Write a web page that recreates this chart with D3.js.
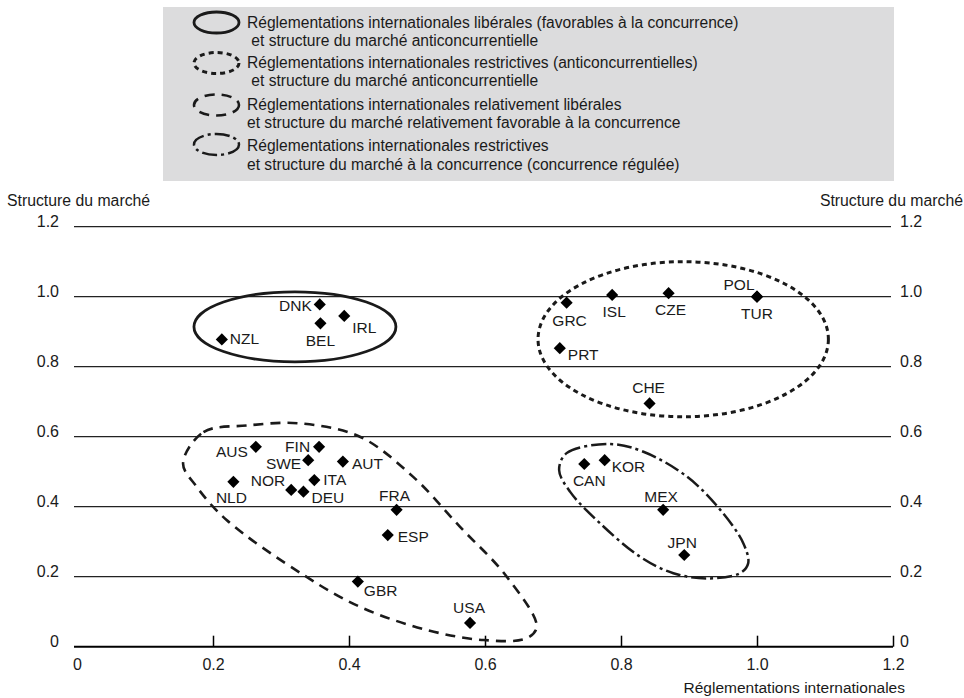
<!DOCTYPE html>
<html><head><meta charset="utf-8">
<script src="https://cdn.jsdelivr.net/npm/d3@7"></script>
<style>
body{margin:0;background:#fff;}
svg{display:block;font-family:"Liberation Sans",Arial,Helvetica,sans-serif;}
</style></head>
<body><svg id="c" width="964" height="698"></svg>
<script>
// ---- data ----
const countries = ["NZL","DNK","BEL","IRL","GRC","ISL","CZE","POL","TUR","PRT","CHE","AUS","FIN","SWE","AUT","NLD","NOR","ITA","DEU","FRA","ESP","GBR","USA","CAN","KOR","MEX","JPN"];
const regIntl   = [0.213,0.357,0.358,0.393,0.720,0.787,0.870,1.000,1.000,0.710,0.842,0.263,0.356,0.340,0.391,0.230,0.315,0.349,0.333,0.470,0.457,0.413,0.578,0.746,0.776,0.862,0.893];
const structMkt = [0.878,0.978,0.924,0.945,0.983,1.005,1.010,1.000,1.000,0.853,0.695,0.571,0.571,0.533,0.529,0.471,0.448,0.476,0.443,0.391,0.319,0.186,0.068,0.522,0.533,0.391,0.262];
const xTicks = [0,0.2,0.4,0.6,0.8,1.0,1.2];
const xTickLabels = ["0","0.2","0.4","0.6","0.8","1.0","1.2"];
const yTicks = [0,0.2,0.4,0.6,0.8,1.0,1.2];
const yTickLabels = ["0","0.2","0.4","0.6","0.8","1.0","1.2"];
const legendLines = [
  ["Réglementations internationales libérales (favorables à la concurrence)"," et structure du marché anticoncurrentielle"],
  ["Réglementations internationales restrictives (anticoncurrentielles)"," et structure du marché anticoncurrentielle"],
  ["Réglementations internationales relativement libérales","et structure du marché relativement favorable à la concurrence"],
  ["Réglementations internationales restrictives","et structure du marché à la concurrence (concurrence régulée)"]
];
// group outlines (data units)
const group1 = {x0:0.172,x1:0.469,y0:0.814,y1:1.014};
const group2 = {x0:0.678,x1:1.105,y0:0.657,y1:1.100};
const group3X = [0.156,0.186,0.250,0.328,0.416,0.494,0.563,0.632,0.676,0.661,0.598,0.514,0.416,0.333,0.220,0.176];
const group3Y = [0.524,0.613,0.632,0.638,0.600,0.486,0.343,0.200,0.057,0.024,0.019,0.048,0.114,0.205,0.362,0.457];
const group4X = [0.709,0.720,0.784,0.833,0.897,0.946,0.980,0.987,0.975,0.926,0.877,0.828,0.769,0.725];
const group4Y = [0.505,0.553,0.579,0.557,0.486,0.391,0.295,0.238,0.210,0.195,0.210,0.257,0.353,0.443];

// ---- label placement (px offsets from marker) ----
const labelPos = {
  NZL:["start",8,5], DNK:["end",-8,7], BEL:["middle",0,23], IRL:["start",8,17],
  GRC:["middle",3,23], ISL:["middle",2,22], CZE:["middle",2,22], POL:["middle",-18,-7], TUR:["middle",0,22],
  PRT:["start",8,12], CHE:["middle",-1,-10], AUS:["end",-8,10], FIN:["end",-9,5], SWE:["end",-7,9],
  AUT:["start",9,7], NLD:["middle",-2,21], NOR:["end",-6,-4], ITA:["start",9,5], DEU:["start",8,11],
  FRA:["middle",-2,-9], ESP:["start",10,7], GBR:["start",6,14], USA:["middle",-1,-10],
  CAN:["middle",5,22], KOR:["start",7,12], MEX:["middle",-2,-8], JPN:["middle",-2,-7]
};

const svg = d3.select("#c");
const x = d3.scaleLinear().domain([0,1.2]).range([77,893]);
const y = d3.scaleLinear().domain([0,1.2]).range([646.7,226.7]);
const ink = "#1a1a1a";

// legend
svg.append("rect").attr("x",163).attr("y",7).attr("width",731).attr("height",174).attr("fill","#dcdcdd");
const styles = [
  {dash:null,w:2.8},
  {dash:"5,4",w:3},
  {dash:"10,7",w:2.6},
  {dash:"15,4,3,4",w:2.5}
];
const legCy = [22.5,63,105,144.5];
const legBase = [[28,46],[68,86],[110,128],[151,170]];
legendLines.forEach((ls,i)=>{
  const e = svg.append("ellipse").attr("cx",216.5).attr("cy",legCy[i]).attr("rx",22.5).attr("ry",10.5)
    .attr("fill","none").attr("stroke",ink).attr("stroke-width",styles[i].w);
  if(styles[i].dash) e.attr("stroke-dasharray",styles[i].dash);
  ls.forEach((t,j)=>{
    svg.append("text").attr("x",247).attr("y",legBase[i][j]).attr("font-size",15.6).attr("fill",ink)
      .attr("xml:space","preserve").style("white-space","pre").text(t);
  });
});

// gridlines
svg.append("g").selectAll("line").data(yTicks.filter(d=>d>0)).join("line")
  .attr("x1",74).attr("x2",891).attr("y1",d=>y(d)).attr("y2",d=>y(d))
  .attr("stroke","#222").attr("stroke-width",1.2);
// x axis line
svg.append("line").attr("x1",74).attr("x2",893).attr("y1",y(0)).attr("y2",y(0)).attr("stroke","#000").attr("stroke-width",2);

// x axis ticks + labels
const xa = svg.append("g").attr("transform",`translate(0,${y(0)})`)
  .call(d3.axisBottom(x).tickValues(xTicks).tickFormat((d,i)=>xTickLabels[i]).tickSizeInner(-11).tickSizeOuter(0).tickPadding(12));
xa.select(".domain").remove();
xa.selectAll(".tick line").attr("stroke","#000").attr("stroke-width",1.5);
xa.selectAll(".tick").filter(d=>d===0).select("line").remove();
xa.selectAll("text").attr("font-size",16).attr("font-family","Liberation Sans, Arial, sans-serif").attr("fill",ink);

// y axes labels
const yl = svg.append("g").attr("transform","translate(74,0)")
  .call(d3.axisLeft(y).tickValues(yTicks).tickFormat((d,i)=>yTickLabels[i]).tickSize(0).tickPadding(15));
yl.select(".domain").remove();
yl.selectAll("text").attr("dy",0).attr("font-size",16).attr("font-family","Liberation Sans, Arial, sans-serif").attr("fill",ink);
const yr = svg.append("g").attr("transform","translate(891,0)")
  .call(d3.axisRight(y).tickValues(yTicks).tickFormat((d,i)=>yTickLabels[i]).tickSize(0).tickPadding(9));
yr.select(".domain").remove();
yr.selectAll("text").attr("dy",0).attr("font-size",16).attr("font-family","Liberation Sans, Arial, sans-serif").attr("fill",ink);

// axis titles
svg.append("text").attr("x",7).attr("y",206).attr("font-size",15.8).attr("fill",ink).text("Structure du marché");
svg.append("text").attr("x",963).attr("y",206).attr("text-anchor","end").attr("font-size",15.8).attr("fill",ink).text("Structure du marché");
svg.append("text").attr("x",905).attr("y",693).attr("text-anchor","end").attr("font-size",15.5).attr("fill",ink).text("Réglementations internationales");

// group outlines
svg.append("ellipse").attr("cx",x((group1.x0+group1.x1)/2)).attr("cy",y((group1.y0+group1.y1)/2))
  .attr("rx",(x(group1.x1)-x(group1.x0))/2).attr("ry",(y(group1.y0)-y(group1.y1))/2)
  .attr("fill","none").attr("stroke",ink).attr("stroke-width",styles[0].w);
svg.append("ellipse").attr("cx",x((group2.x0+group2.x1)/2)).attr("cy",y((group2.y0+group2.y1)/2))
  .attr("rx",(x(group2.x1)-x(group2.x0))/2).attr("ry",(y(group2.y0)-y(group2.y1))/2)
  .attr("fill","none").attr("stroke",ink).attr("stroke-width",styles[1].w).attr("stroke-dasharray",styles[1].dash);
const closed = d3.line().x(d=>x(d[0])).y(d=>y(d[1])).curve(d3.curveCatmullRomClosed.alpha(0.5));
svg.append("path").attr("d",closed(group3X.map((v,i)=>[v,group3Y[i]])))
  .attr("fill","none").attr("stroke",ink).attr("stroke-width",styles[2].w).attr("stroke-dasharray",styles[2].dash);
svg.append("path").attr("d",closed(group4X.map((v,i)=>[v,group4Y[i]])))
  .attr("fill","none").attr("stroke",ink).attr("stroke-width",styles[3].w).attr("stroke-dasharray",styles[3].dash);

// points
const pts = countries.map((c,i)=>({c,x:regIntl[i],y:structMkt[i]}));
const sym = d3.symbol().type(d3.symbolSquare).size(74);
svg.append("g").selectAll("path").data(pts).join("path")
  .attr("d",sym).attr("transform",d=>`translate(${x(d.x)},${y(d.y)}) rotate(45)`).attr("fill","#000");
svg.append("g").selectAll("text").data(pts).join("text")
  .attr("x",d=>x(d.x)+labelPos[d.c][1]).attr("y",d=>y(d.y)+labelPos[d.c][2])
  .attr("text-anchor",d=>labelPos[d.c][0]).attr("font-size",15.5).attr("fill",ink).text(d=>d.c);
</script></body></html>
